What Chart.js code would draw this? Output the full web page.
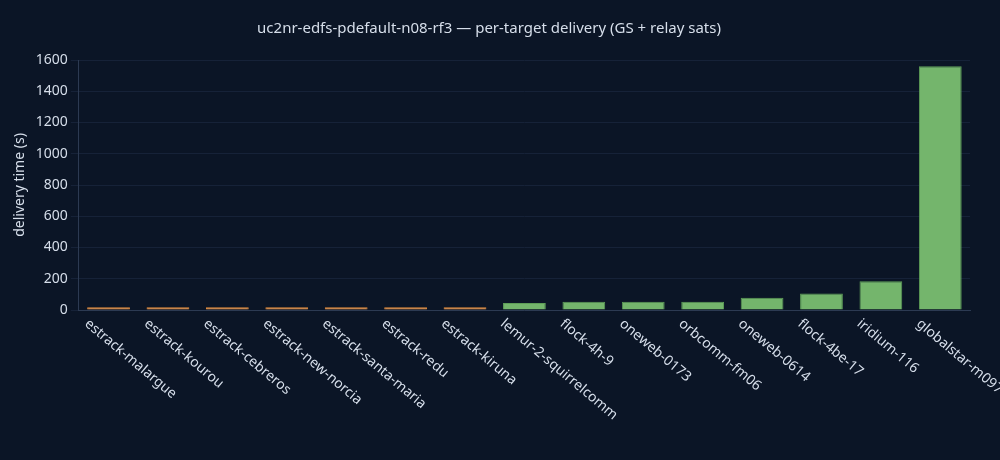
<!DOCTYPE html>
<html>
<head>
<meta charset="utf-8">
<script src="https://cdn.jsdelivr.net/npm/chart.js@4"></script>
<style>
  html, body { margin: 0; background: #0b1526; }
  #wrap { width: 1000px; height: 460px; position: relative; }
</style>
</head>
<body>
<div id="wrap"><canvas id="c"></canvas></div>
<script>
const targets = [
  "estrack-malargue", "estrack-kourou", "estrack-cebreros", "estrack-new-norcia",
  "estrack-santa-maria", "estrack-redu", "estrack-kiruna", "lemur-2-squirrelcomm",
  "flock-4h-9", "oneweb-0173", "orbcomm-fm06", "oneweb-0614", "flock-4be-17",
  "iridium-116", "globalstar-m097"
]
const deliverySec = [18, 18, 18, 18, 18, 18, 18, 45, 53, 53, 53, 78, 106, 184, 1560]
const isGroundStation = [true, true, true, true, true, true, true, false, false, false, false, false, false, false, false]
const yTicks = [0, 200, 400, 600, 800, 1000, 1200, 1400, 1600]

const fill = isGroundStation.map((gs) => gs ? "#f4a25a" : "#74b56c")
const edge = isGroundStation.map((gs) => gs ? "#e08a3c" : "#5e9e57")

// x labels hang down-right from their tick, so draw them by hand
const slantedLabels = {
  id: "slantedLabels",
  afterDraw(chart) {
    const { ctx, scales: { x } } = chart
    ctx.save()
    ctx.font = "14px 'Noto Sans'"
    ctx.fillStyle = "#d6deea"
    ctx.textAlign = "left"
    ctx.textBaseline = "middle"
    targets.forEach((name, i) => {
      const px = x.getPixelForTick(i)
      ctx.save()
      ctx.translate(px - 22, x.top + 12)
      ctx.rotate(40 * Math.PI / 180)
      ctx.fillText(name, 0, 0)
      ctx.restore()
    })
    ctx.restore()
  }
}

new Chart(document.getElementById("c"), {
  type: "bar",
  data: {
    labels: targets,
    datasets: [{
      data: deliverySec,
      backgroundColor: fill,
      borderColor: edge,
      borderWidth: 1,
      categoryPercentage: 1,
      barPercentage: 0.72
    }]
  },
  options: {
    responsive: true,
    maintainAspectRatio: false,
    animation: false,
    layout: { padding: { left: 8, right: 30, top: 14, bottom: 142 } },
    plugins: {
      legend: { display: false },
      title: {
        display: true,
        text: "uc2nr-edfs-pdefault-n08-rf3 — per-target delivery (GS + relay sats)",
        color: "#d6deea",
        font: { family: "Noto Sans", size: 15, weight: "normal" },
        padding: { top: 6, bottom: 22 }
      }
    },
    scales: {
      x: {
        grid: { display: false },
        border: { color: "#2c3a52" },
        ticks: { display: false }
      },
      y: {
        min: 0, max: 1600,
        afterBuildTicks: (axis) => { axis.ticks = yTicks.map((v) => ({ value: v })) },
        grid: { color: "#162238" },
        border: { color: "#2c3a52" },
        ticks: { color: "#d6deea", font: { family: "Noto Sans", size: 14 }, callback: (v) => String(v) },
        title: {
          display: true,
          text: "delivery time (s)",
          color: "#d6deea",
          font: { family: "Noto Sans", size: 14 }
        }
      }
    }
  },
  plugins: [slantedLabels]
})
</script>
</body>
</html>
